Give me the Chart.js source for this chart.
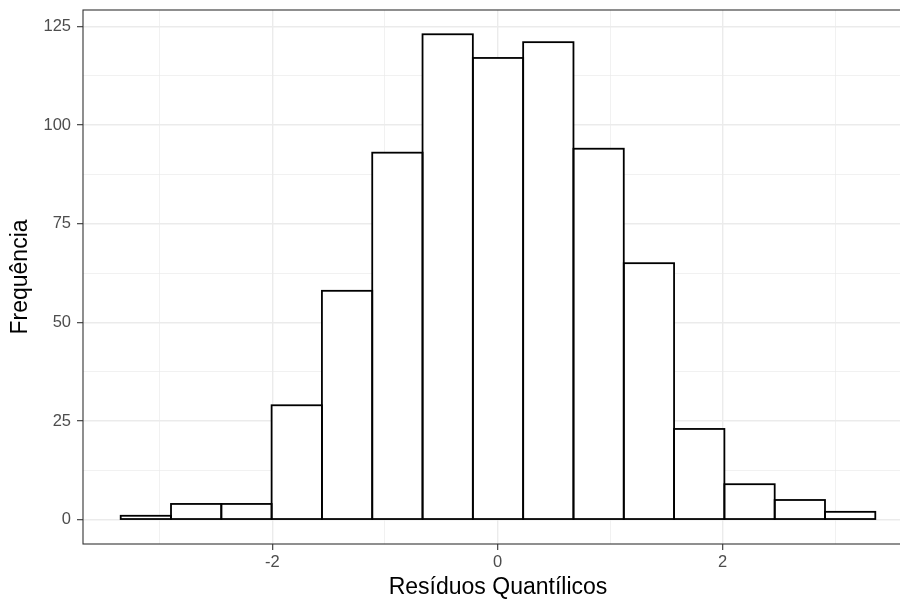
<!DOCTYPE html>
<html>
<head>
<meta charset="utf-8">
<script src="https://cdn.jsdelivr.net/npm/chart.js@4"></script>
<style>
html,body{margin:0;padding:0;background:#fff;overflow:hidden;}
#wrap{width:920px;height:603px;}
</style>
</head>
<body>
<div id="wrap"><canvas id="c" width="920" height="603"></canvas></div>
<script>
// Bin centers (Resíduos Quantílicos) and counts (Frequência)
const binCenters = [-3.1245, -2.6775, -2.2305, -1.7835, -1.3365, -0.8895, -0.4425, 0.0045, 0.4515, 0.8985, 1.3455, 1.7925, 2.2395, 2.6865, 3.1335];
const counts = [1, 4, 4, 29, 58, 93, 123, 117, 121, 94, 65, 23, 9, 5, 2];
const xGridValues = [-3, -2, -1, 0, 1, 2, 3];
const xMajorTicks = [-2, 0, 2];
const yGridValues = [0, 12.5, 25, 37.5, 50, 62.5, 75, 87.5, 100, 112.5, 125];
const yMajorTicks = [0, 25, 50, 75, 100, 125];
const xTitle = 'Resíduos Quantílicos';
const yTitle = 'Frequência';

Chart.defaults.font.family = "'Liberation Sans', Arial, sans-serif";

const isMajor = (list, v) => list.some(m => Math.abs(m - v) < 1e-9);

const outlinePlugin = {
  id: 'outline',
  afterDatasetsDraw(chart) {
    const ctx = chart.ctx;
    const meta = chart.getDatasetMeta(0);
    ctx.save();
    ctx.strokeStyle = '#000';
    ctx.lineWidth = 1.8;
    meta.data.forEach(el => {
      const p = el.getProps(['x', 'y', 'base', 'width'], true);
      ctx.strokeRect(p.x - p.width / 2, p.y, p.width, p.base - p.y);
    });
    ctx.restore();
  },
  afterDraw(chart) {
    const a = chart.chartArea;
    const ctx = chart.ctx;
    ctx.save();
    ctx.strokeStyle = '#333333';
    ctx.lineWidth = 1.1;
    ctx.strokeRect(a.left, a.top, a.right - a.left, a.bottom - a.top);
    ctx.restore();
  }
};

new Chart(document.getElementById('c'), {
  type: 'bar',
  data: {
    datasets: [{
      data: binCenters.map((x, i) => ({ x: x, y: counts[i] })),
      backgroundColor: '#ffffff',
      borderWidth: 0,
      barPercentage: 1,
      categoryPercentage: 1,
      grouped: false
    }]
  },
  options: {
    responsive: false,
    animation: false,
    layout: { padding: { left: 0, top: 10, right: 7, bottom: 0 } },
    plugins: { legend: { display: false }, tooltip: { enabled: false } },
    scales: {
      x: {
        type: 'linear',
        offset: false,
        min: -3.683,
        max: 3.692,
        afterBuildTicks: s => { s.ticks = xGridValues.map(v => ({ value: v })); },
        afterFit: s => { s.height = 59; s.paddingLeft = 0; s.paddingRight = 0; },
        border: { display: false },
        grid: {
          offset: false,
          color: '#EBEBEB',
          lineWidth: c => isMajor(xMajorTicks, c.tick.value) ? 1.4 : 0.7,
          tickColor: c => isMajor(xMajorTicks, c.tick.value) ? '#333333' : 'rgba(0,0,0,0)',
          tickLength: 6,
          tickWidth: 1.1
        },
        ticks: {
          autoSkip: false,
          maxRotation: 0,
          padding: 3,
          color: '#4D4D4D',
          font: { size: 16.5 },
          callback: v => isMajor(xMajorTicks, v) ? String(v) : ''
        },
        title: {
          display: true,
          text: xTitle,
          color: '#000',
          font: { size: 23 },
          padding: { top: 0, bottom: 2 }
        }
      },
      y: {
        type: 'linear',
        min: -6.15,
        max: 129.15,
        afterBuildTicks: s => { s.ticks = yGridValues.map(v => ({ value: v })); },
        afterFit: s => { s.width = 83; s.paddingTop = 0; s.paddingBottom = 0; },
        border: { display: false },
        grid: {
          color: '#EBEBEB',
          lineWidth: c => isMajor(yMajorTicks, c.tick.value) ? 1.4 : 0.7,
          tickColor: c => isMajor(yMajorTicks, c.tick.value) ? '#333333' : 'rgba(0,0,0,0)',
          tickLength: 6,
          tickWidth: 1.1
        },
        ticks: {
          autoSkip: false,
          padding: 6,
          color: '#4D4D4D',
          font: { size: 16.5 },
          callback: v => isMajor(yMajorTicks, v) ? String(v) : ''
        },
        title: {
          display: true,
          text: yTitle,
          color: '#000',
          font: { size: 23 },
          padding: { top: 7, bottom: 0 }
        }
      }
    }
  },
  plugins: [outlinePlugin]
});
</script>
</body>
</html>
